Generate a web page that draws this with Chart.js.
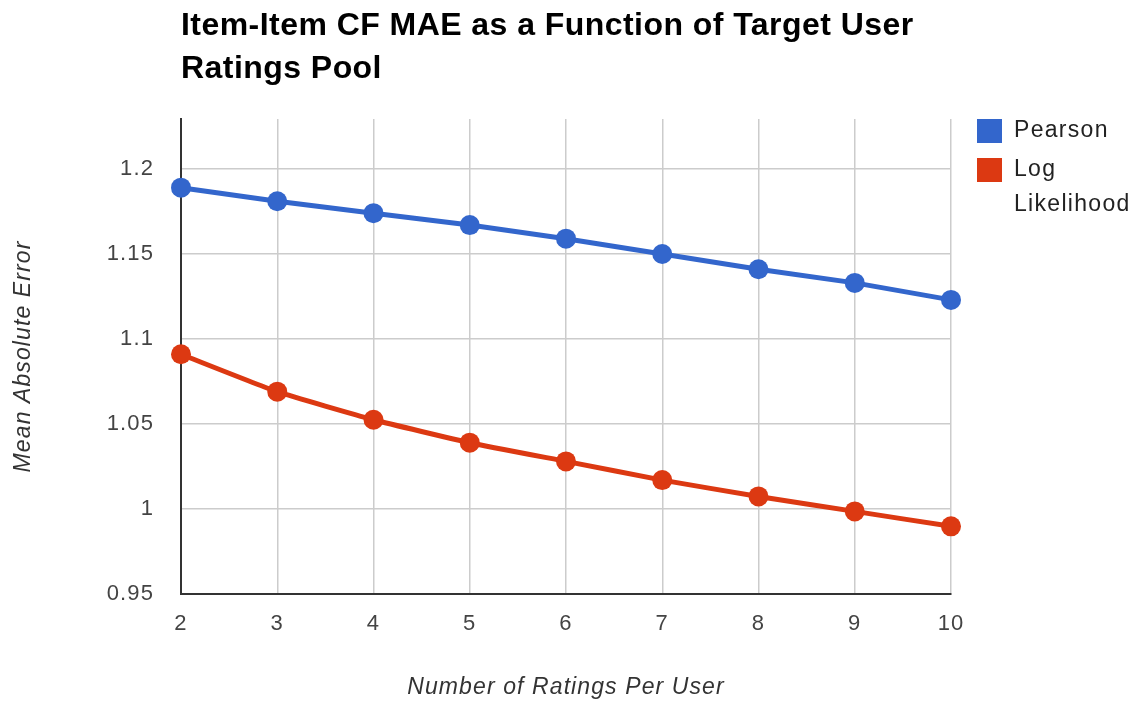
<!DOCTYPE html>
<html>
<head>
<meta charset="utf-8">
<script src="https://cdn.jsdelivr.net/npm/chart.js@4"></script>
<style>
  html, body { margin: 0; padding: 0; background: #fff; }
  #wrap { width: 1138px; height: 704px; position: relative; }
</style>
</head>
<body>
<div id="wrap"><canvas id="c" width="1138" height="704"></canvas></div>
<script>
const categories = ['2', '3', '4', '5', '6', '7', '8', '9', '10'];
const pearson = [1.189, 1.181, 1.174, 1.167, 1.159, 1.150, 1.141, 1.133, 1.123];
const logLikelihood = [1.091, 1.069, 1.0525, 1.039, 1.028, 1.017, 1.0074, 0.9986, 0.9898];
const yTicks = [0.95, 1, 1.05, 1.1, 1.15, 1.2];
const titleLines = ['Item-Item CF MAE as a Function of Target User', 'Ratings Pool'];
const seriesNames = ['Pearson', ['Log', 'Likelihood']];
const seriesColors = ['#3366CC', '#DC3912'];

const FONT = '"Liberation Sans", Arial, sans-serif';

// wider glyph spacing for axis text, as in the reference rendering
const spacingPlugin = {
  id: 'spacing',
  beforeDraw(chart) { chart.ctx.letterSpacing = '1.1px'; },
  beforeDatasetsDraw(chart) { chart.ctx.letterSpacing = '0px'; }
};

const titlePlugin = {
  id: 'customTitle',
  afterDraw(chart) {
    const ctx = chart.ctx;
    const a = chart.chartArea;
    ctx.save();
    ctx.letterSpacing = '0.45px';
    ctx.fillStyle = '#000';
    ctx.font = 'bold 32px ' + FONT;
    ctx.textAlign = 'left';
    ctx.textBaseline = 'middle';
    ctx.fillText(titleLines[0], a.left, 26);
    ctx.fillText(titleLines[1], a.left, 69);
    ctx.restore();
  }
};

const legendPlugin = {
  id: 'customLegend',
  afterDraw(chart) {
    const ctx = chart.ctx;
    const a = chart.chartArea;
    const x0 = a.right + 26;
    ctx.save();
    ctx.letterSpacing = '1.3px';
    ctx.font = '23px ' + FONT;
    ctx.textAlign = 'left';
    ctx.textBaseline = 'middle';
    const rows = [
      { top: a.top, color: seriesColors[0], lines: [seriesNames[0]] },
      { top: a.top + 39, color: seriesColors[1], lines: seriesNames[1] }
    ];
    rows.forEach(r => {
      ctx.fillStyle = r.color;
      ctx.fillRect(x0, r.top, 25, 24);
      ctx.fillStyle = '#222';
      r.lines.forEach((t, i) => ctx.fillText(t, x0 + 37, r.top + 12 + i * 35));
    });
    ctx.restore();
  }
};

new Chart(document.getElementById('c'), {
  type: 'line',
  data: {
    labels: categories,
    datasets: [
      {
        label: 'Pearson',
        data: pearson,
        borderColor: seriesColors[0],
        backgroundColor: seriesColors[0],
        borderWidth: 5,
        pointRadius: 10,
        pointBorderWidth: 0,
        pointHoverRadius: 10,
        tension: 0
      },
      {
        label: 'Log Likelihood',
        data: logLikelihood,
        borderColor: seriesColors[1],
        backgroundColor: seriesColors[1],
        borderWidth: 5,
        pointRadius: 10,
        pointBorderWidth: 0,
        pointHoverRadius: 10,
        tension: 0.15
      }
    ]
  },
  options: {
    responsive: false,
    animation: false,
    devicePixelRatio: 1,
    layout: { padding: { top: 119, right: 187, left: 0, bottom: 0 } },
    plugins: {
      legend: { display: false },
      title: { display: false },
      tooltip: { enabled: false }
    },
    scales: {
      x: {
        type: 'category',
        offset: false,
        grid: { color: '#cccccc', lineWidth: 1.5, drawTicks: false },
        border: { color: '#333333', width: 2 },
        ticks: {
          color: '#444',
          font: { family: FONT, size: 22 },
          padding: 17,
          maxRotation: 0,
          autoSkip: false
        },
        title: {
          display: true,
          text: 'Number of Ratings Per User',
          color: '#333',
          font: { family: FONT, size: 23, style: 'italic' },
          padding: { top: 0, bottom: 3 }
        },
        afterFit(scale) { scale.height = 110; }
      },
      y: {
        type: 'linear',
        min: 0.95,
        max: 1.2294,
        afterBuildTicks(scale) { scale.ticks = yTicks.map(v => ({ value: v })); },
        grid: { color: '#cccccc', lineWidth: 1.5, drawTicks: false },
        border: { color: '#333333', width: 2 },
        ticks: {
          color: '#444',
          font: { family: FONT, size: 22 },
          padding: 27,
          callback: v => String(v)
        },
        title: {
          display: true,
          text: 'Mean Absolute Error',
          color: '#333',
          font: { family: FONT, size: 23, style: 'italic' },
          padding: { top: 10, bottom: 0 }
        },
        afterFit(scale) { scale.width = 181; }
      }
    }
  },
  plugins: [spacingPlugin, titlePlugin, legendPlugin]
});
</script>
</body>
</html>
